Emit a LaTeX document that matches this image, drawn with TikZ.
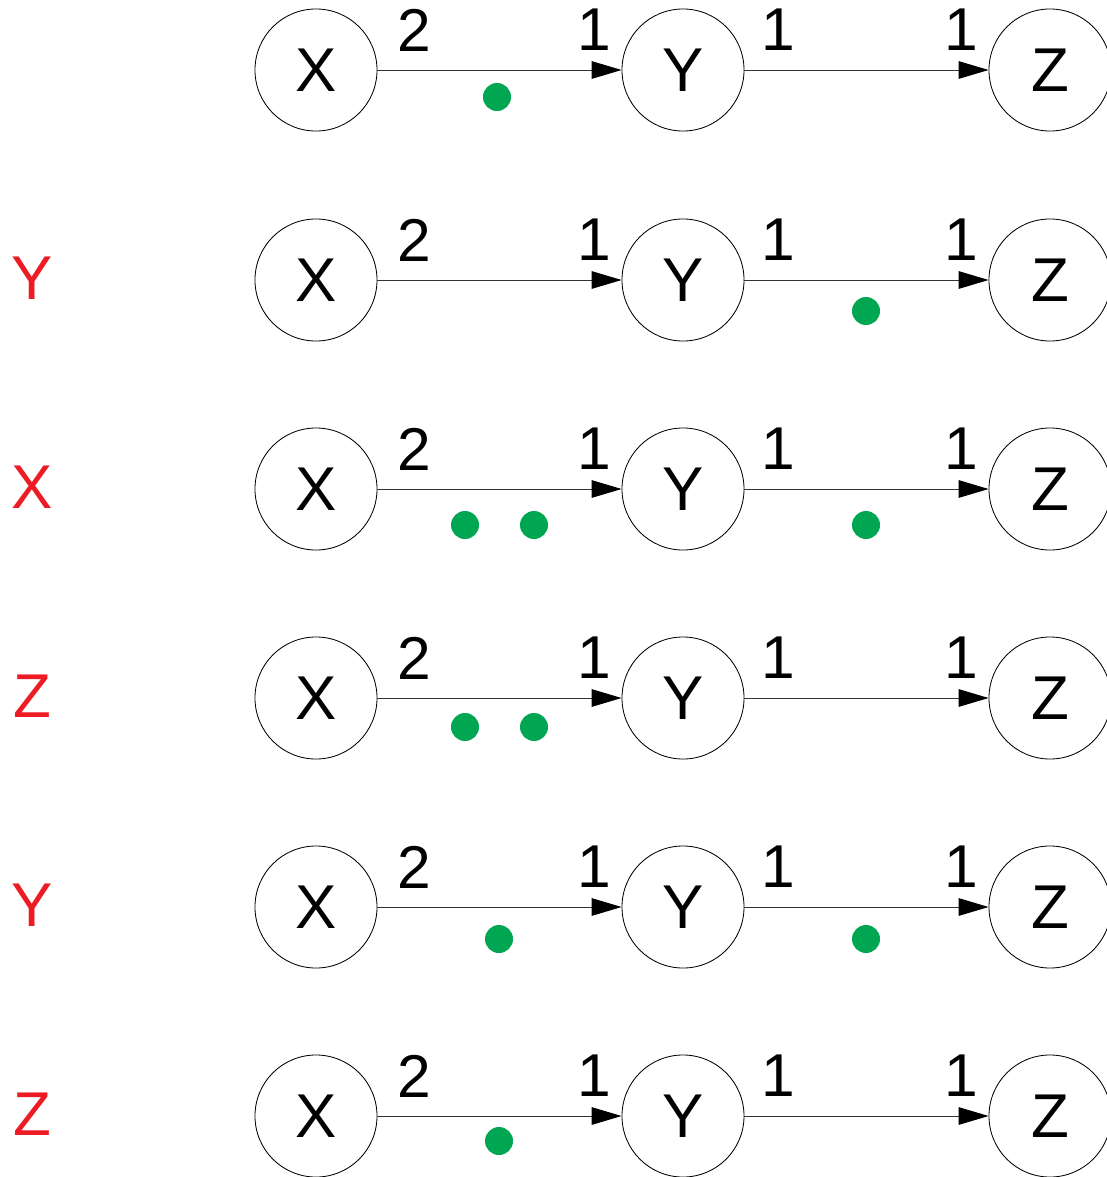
\documentclass[tikz,border=0pt]{standalone}
\usepackage{fontspec}
\setmainfont{Liberation Sans}
\usepackage{tikz}
\usetikzlibrary{arrows.meta}
\definecolor{tokengreen}{RGB}{0,166,81}
\definecolor{firered}{RGB}{237,28,36}

\begin{document}
\begin{tikzpicture}[x=0.025cm, y=-0.025cm,
  place/.style={draw, circle, line width=0.6pt, minimum size=3.05cm, inner sep=0pt,
                font=\fontsize{44}{44}\selectfont},
  arc/.style={-{Triangle[length=0.75cm, width=0.44cm, color=black]}, line width=0.7pt, color=black!80},
  weight/.style={font=\fontsize{43}{43}\selectfont, text=black, inner sep=0pt, yshift=1cm},
  fired/.style={font=\fontsize{44}{44}\selectfont, text=firered},
  token/.style={fill=tokengreen}
]
\useasboundingbox (0,0) rectangle (1106,1177);

% Row 1
\node[place] (x1) at (316, 70) {X};
\node[place] (y1) at (683, 70) {Y};
\node[place] (z1) at (1050, 70) {Z};
\draw[arc] (x1) -- (y1) node[weight, pos=0.15] {2} node[weight, pos=0.89] {1};
\draw[arc] (y1) -- (z1) node[weight, pos=0.14] {1} node[weight, pos=0.89] {1};
\fill[token] (497, 97) circle[radius=0.35cm];

% Row 2
\node[fired] (r2) at (32, 278) {Y};
\node[place] (x2) at (316, 280) {X};
\node[place] (y2) at (683, 280) {Y};
\node[place] (z2) at (1050, 280) {Z};
\draw[arc] (x2) -- (y2) node[weight, pos=0.15] {2} node[weight, pos=0.89] {1};
\draw[arc] (y2) -- (z2) node[weight, pos=0.14] {1} node[weight, pos=0.89] {1};
\fill[token] (866, 311) circle[radius=0.35cm];

% Row 3
\node[fired] (r3) at (32, 487) {X};
\node[place] (x3) at (316, 489) {X};
\node[place] (y3) at (683, 489) {Y};
\node[place] (z3) at (1050, 489) {Z};
\draw[arc] (x3) -- (y3) node[weight, pos=0.15] {2} node[weight, pos=0.89] {1};
\draw[arc] (y3) -- (z3) node[weight, pos=0.14] {1} node[weight, pos=0.89] {1};
\fill[token] (465, 525) circle[radius=0.35cm];
\fill[token] (534, 525) circle[radius=0.35cm];
\fill[token] (866, 525) circle[radius=0.35cm];

% Row 4
\node[fired] (r4) at (32, 696) {Z};
\node[place] (x4) at (316, 698) {X};
\node[place] (y4) at (683, 698) {Y};
\node[place] (z4) at (1050, 698) {Z};
\draw[arc] (x4) -- (y4) node[weight, pos=0.15] {2} node[weight, pos=0.89] {1};
\draw[arc] (y4) -- (z4) node[weight, pos=0.14] {1} node[weight, pos=0.89] {1};
\fill[token] (465, 727) circle[radius=0.35cm];
\fill[token] (534, 727) circle[radius=0.35cm];

% Row 5
\node[fired] (r5) at (32, 905) {Y};
\node[place] (x5) at (316, 907) {X};
\node[place] (y5) at (683, 907) {Y};
\node[place] (z5) at (1050, 907) {Z};
\draw[arc] (x5) -- (y5) node[weight, pos=0.15] {2} node[weight, pos=0.89] {1};
\draw[arc] (y5) -- (z5) node[weight, pos=0.14] {1} node[weight, pos=0.89] {1};
\fill[token] (499, 939) circle[radius=0.35cm];
\fill[token] (866, 939) circle[radius=0.35cm];

% Row 6
\node[fired] (r6) at (32, 1114) {Z};
\node[place] (x6) at (316, 1116) {X};
\node[place] (y6) at (683, 1116) {Y};
\node[place] (z6) at (1050, 1116) {Z};
\draw[arc] (x6) -- (y6) node[weight, pos=0.15] {2} node[weight, pos=0.89] {1};
\draw[arc] (y6) -- (z6) node[weight, pos=0.14] {1} node[weight, pos=0.89] {1};
\fill[token] (499, 1141) circle[radius=0.35cm];

\end{tikzpicture}
\end{document}
